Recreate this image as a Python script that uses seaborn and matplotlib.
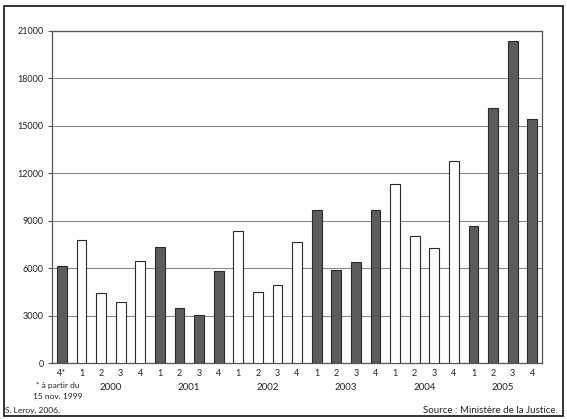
import matplotlib
matplotlib.use("Agg")
import matplotlib.pyplot as plt
import matplotlib.patches as mpatches
import matplotlib.transforms as mtransforms
import seaborn as sns
import pandas as pd

# ---- data ----
periods = ["1999-4", "2000-1", "2000-2", "2000-3", "2000-4",
           "2001-1", "2001-2", "2001-3", "2001-4",
           "2002-1", "2002-2", "2002-3", "2002-4",
           "2003-1", "2003-2", "2003-3", "2003-4",
           "2004-1", "2004-2", "2004-3", "2004-4",
           "2005-1", "2005-2", "2005-3", "2005-4"]
quarter_labels = ["4*", "1", "2", "3", "4", "1", "2", "3", "4", "1", "2", "3", "4",
                  "1", "2", "3", "4", "1", "2", "3", "4", "1", "2", "3", "4"]
values = [6150, 7800, 4400, 3850, 6450,
          7350, 3500, 3050, 5850,
          8350, 4500, 4950, 7650,
          9700, 5900, 6400, 9700,
          11350, 8050, 7300, 12800,
          8650, 16100, 20350, 15450]
years = ["2000", "2001", "2002", "2003", "2004", "2005"]
year_of_period = [p.split("-")[0] for p in periods]
yticks = [0, 3000, 6000, 9000, 12000, 15000, 18000, 21000]

DARK = "#5c5c5c"
WHITE = "#ffffff"
dark_years = {"1999", "2001", "2003", "2005"}
palette = {p: (DARK if y in dark_years else WHITE) for p, y in zip(periods, year_of_period)}

df = pd.DataFrame({"period": periods, "value": values})

sns.set_style("white")
plt.rcParams["font.family"] = ["Lato", "DejaVu Sans"]

W, H = 567, 419
fig = plt.figure(figsize=(W / 100, H / 100), dpi=100)
fig.patch.set_facecolor("white")
ax = fig.add_axes([52 / W, 1 - 363 / H, 490 / W, 332 / H])

sns.barplot(data=df, x="period", y="value", hue="period", palette=palette,
            legend=False, width=0.5, edgecolor="#2a2a2a", linewidth=0.8,
            order=periods, hue_order=periods, ax=ax, zorder=3)

ax.set_xlim(-0.5, len(periods) - 0.5)
ax.set_ylim(0, 21000)
ax.set_yticks(yticks)
ax.set_yticklabels([str(v) for v in yticks], fontsize=6.5, color="#222222")
ax.set_xticks(range(len(periods)))
ax.set_xticklabels(quarter_labels, fontsize=6.5, color="#222222")
ax.tick_params(axis="x", length=0, pad=4)
ax.tick_params(axis="y", length=3, width=0.8, color="#555555", pad=3, left=True)
ax.set_xlabel("")
ax.set_ylabel("")
ax.grid(axis="y", color="#8a8a8a", linewidth=0.8, zorder=0)
ax.set_axisbelow(True)
for s in ax.spines.values():
    s.set_visible(True)
    s.set_color("#555555")
    s.set_linewidth(0.9)

# year labels
trans = mtransforms.blended_transform_factory(ax.transData, fig.transFigure)
for y in years:
    idx = [i for i, yy in enumerate(year_of_period) if yy == y]
    xc = sum(idx) / len(idx)
    ax.text(xc, 1 - 387 / H, y, transform=trans, ha="center", va="center",
            fontsize=7, color="#222222")

# footnote under first bar
fig.text(58 / W, 1 - 385 / H, "* à partir du", ha="center", va="center",
         fontsize=6, color="#222222")
fig.text(58 / W, 1 - 396 / H, "15 nov. 1999", ha="center", va="center",
         fontsize=6, color="#222222")

fig.text(5 / W, 1 - 410.5 / H, "S. Leroy, 2006.", ha="left", va="center",
         fontsize=6, color="#222222")
fig.text(558 / W, 1 - 410.5 / H, "Source : Ministère de la Justice.", ha="right",
         va="center", fontsize=7, color="#222222")

# outer frame
frame = mpatches.Rectangle((4 / W, 1 - 416 / H), (563 - 4) / W, (416 - 6) / H,
                           transform=fig.transFigure, fill=False,
                           edgecolor="#111111", linewidth=1.2)
fig.patches.append(frame)

fig.savefig("out.png", dpi=100)
